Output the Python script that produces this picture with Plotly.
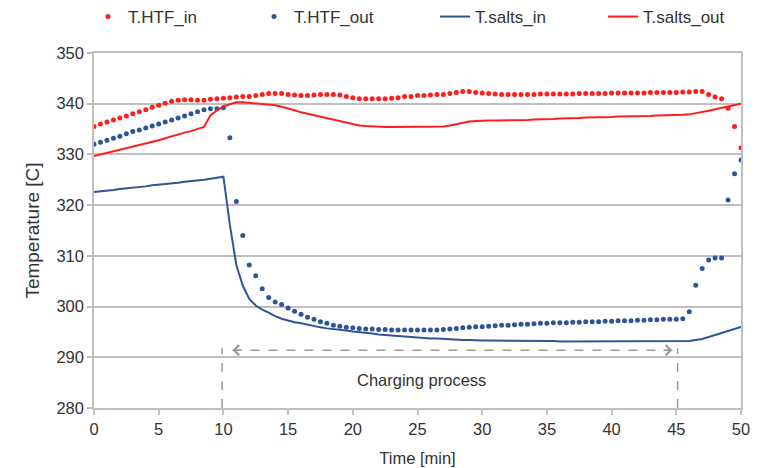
import plotly.graph_objects as go

time_min = [0, 0.5, 1, 1.5, 2, 2.5, 3, 3.5, 4, 4.5, 5, 5.5, 6, 6.5, 7, 7.5, 8, 8.5, 9, 9.5,
            10, 10.5, 11, 11.5, 12, 12.5, 13, 13.5, 14, 14.5, 15, 15.5, 16, 16.5, 17, 17.5, 18, 18.5, 19, 19.5,
            20, 20.5, 21, 21.5, 22, 22.5, 23, 23.5, 24, 24.5, 25, 25.5, 26, 26.5, 27, 27.5, 28, 28.5, 29, 29.5,
            30, 30.5, 31, 31.5, 32, 32.5, 33, 33.5, 34, 34.5, 35, 35.5, 36, 36.5, 37, 37.5, 38, 38.5, 39, 39.5,
            40, 40.5, 41, 41.5, 42, 42.5, 43, 43.5, 44, 44.5, 45, 45.5, 46, 46.5, 47, 47.5, 48, 48.5, 49, 49.5,
            50]

htf_in = [335.5, 336.0, 336.4, 336.8, 337.2, 337.6, 338.0, 338.4, 338.8, 339.3,
          339.7, 340.1, 340.5, 340.7, 340.8, 340.8, 340.7, 340.7, 340.9, 341.0,
          341.1, 341.2, 341.3, 341.4, 341.4, 341.6, 341.8, 342.0, 342.0, 342.0,
          341.8, 341.7, 341.6, 341.6, 341.7, 341.8, 341.8, 341.8, 341.7, 341.4,
          341.2, 341.0, 341.0, 341.0, 341.0, 341.0, 341.1, 341.2, 341.4, 341.4,
          341.6, 341.6, 341.7, 341.8, 341.8, 342.0, 342.2, 342.4, 342.4, 342.2,
          342.1, 342.0, 341.9, 341.8, 341.8, 341.8, 341.8, 341.8, 341.8, 341.9,
          341.9, 341.9, 341.9, 341.9, 341.9, 342.0, 342.0, 342.0, 342.0, 342.0,
          342.1, 342.1, 342.1, 342.1, 342.1, 342.1, 342.2, 342.2, 342.2, 342.2,
          342.2, 342.3, 342.3, 342.4, 342.4, 341.8, 341.3, 341.0, 339.1, 335.5,
          331.3]

htf_out = [332.0, 332.4, 332.8, 333.2, 333.6, 334.1, 334.5, 334.8, 335.2, 335.6,
           336.0, 336.4, 336.8, 337.2, 337.6, 338.0, 338.4, 338.8, 339.0, 339.0,
           339.2, 333.3, 320.7, 314.0, 308.2, 306.1, 303.5, 301.8, 300.9, 300.4,
           299.7, 299.1, 298.5, 297.9, 297.5, 297.0, 296.7, 296.3, 296.1, 295.9,
           295.8, 295.7, 295.6, 295.6, 295.5, 295.5, 295.4, 295.4, 295.4, 295.4,
           295.4, 295.4, 295.4, 295.4, 295.5, 295.6, 295.7, 295.8, 295.9, 296.0,
           296.0, 296.1, 296.2, 296.3, 296.3, 296.4, 296.5, 296.5, 296.6, 296.7,
           296.7, 296.8, 296.8, 296.8, 296.9, 296.9, 297.0, 297.0, 297.0, 297.1,
           297.1, 297.2, 297.2, 297.2, 297.3, 297.3, 297.4, 297.4, 297.5, 297.5,
           297.5, 297.6, 299.0, 304.2, 307.5, 309.2, 309.6, 309.6, 321.0, 326.2,
           328.9]

salts_in = [322.6, 322.7, 322.9, 323.0, 323.2, 323.3, 323.4, 323.6, 323.7, 323.9,
            324.0, 324.1, 324.3, 324.4, 324.6, 324.7, 324.9, 325.0, 325.2, 325.4,
            325.6, 316.1, 308.2, 304.1, 301.5, 300.2, 299.4, 298.8, 298.1, 297.6,
            297.2, 296.9, 296.7, 296.4, 296.1, 295.9, 295.7, 295.6, 295.4, 295.3,
            295.1, 295.0, 294.8, 294.7, 294.5, 294.4, 294.3, 294.1, 294.0, 293.9,
            293.9, 293.8, 293.7, 293.7, 293.6, 293.5, 293.5, 293.4, 293.4, 293.3,
            293.3, 293.3, 293.3, 293.2, 293.2, 293.2, 293.2, 293.2, 293.2, 293.2,
            293.2, 293.2, 293.1, 293.1, 293.1, 293.1, 293.1, 293.1, 293.1, 293.1,
            293.1, 293.1, 293.1, 293.2, 293.2, 293.2, 293.2, 293.2, 293.2, 293.2,
            293.2, 293.2, 293.2, 293.4, 293.6, 294.0, 294.4, 294.8, 295.2, 295.6,
            296.0]

salts_out = [329.7, 330.0, 330.3, 330.6, 330.9, 331.2, 331.5, 331.8, 332.2, 332.5,
             332.8, 333.2, 333.6, 334.0, 334.3, 334.6, 335.0, 335.4, 337.7, 338.7,
             339.5, 339.9, 340.3, 340.3, 340.2, 340.1, 340.0, 339.9, 339.7, 339.4,
             339.1, 338.7, 338.3, 338.0, 337.7, 337.4, 337.2, 336.8, 336.5, 336.2,
             336.0, 335.7, 335.6, 335.5, 335.4, 335.4, 335.4, 335.4, 335.4, 335.4,
             335.4, 335.4, 335.4, 335.4, 335.5, 335.7, 336.0, 336.2, 336.5, 336.6,
             336.7, 336.7, 336.7, 336.7, 336.7, 336.7, 336.7, 336.8, 336.9, 336.9,
             337.0, 337.0, 337.1, 337.1, 337.2, 337.2, 337.3, 337.3, 337.4, 337.4,
             337.4, 337.5, 337.5, 337.5, 337.6, 337.6, 337.6, 337.7, 337.7, 337.7,
             337.8, 337.8, 337.9, 338.1, 338.4, 338.6, 338.9, 339.2, 339.5, 339.8,
             340.0]

x_ticks = [0, 5, 10, 15, 20, 25, 30, 35, 40, 45, 50]
y_ticks = [280, 290, 300, 310, 320, 330, 340, 350]

charge_start = 9.9
charge_end = 45.1
arrow_left = 10.7
arrow_right = 44.7
arrow_level = 291.4
label_time = 25.3
label_level = 285.5
label_text = "Charging process"

RED = "#FF1E1E"
BLUE = "#2F5597"
GRID = "#BFBFBF"
TXT = "#333333"
FONT = "Liberation Sans, Arial, sans-serif"

# page body has an ~8px default margin, so the figure is sized to fit the window
FIG_W, FIG_H = 761, 460

fig = go.Figure()
fig.add_trace(go.Scatter(x=time_min, y=htf_in, mode="markers", name="T.HTF_in",
                         marker=dict(color=RED, size=5), legend="legend"))
fig.add_trace(go.Scatter(x=time_min, y=htf_out, mode="markers", name="T.HTF_out",
                         marker=dict(color=BLUE, size=5), legend="legend2"))
fig.add_trace(go.Scatter(x=time_min, y=salts_in, mode="lines", name="T.salts_in",
                         line=dict(color=BLUE, width=2), legend="legend3"))
fig.add_trace(go.Scatter(x=time_min, y=salts_out, mode="lines", name="T.salts_out",
                         line=dict(color=RED, width=2), legend="legend4"))

dash_col = "#9A9A9A"
for tx in (charge_start, charge_end):
    fig.add_shape(type="line", x0=tx, x1=tx, y0=280, y1=arrow_level + 0.4,
                  xref="x", yref="y", line=dict(color=dash_col, width=1.5, dash="dash"))
fig.add_shape(type="line", x0=arrow_left, x1=arrow_right, y0=arrow_level, y1=arrow_level,
              xref="x", yref="y", line=dict(color=dash_col, width=1.5, dash="dash"))
fig.add_annotation(x=arrow_left, y=arrow_level, ax=arrow_left + 0.8, ay=arrow_level,
                   xref="x", yref="y", axref="x", ayref="y", text="", showarrow=True,
                   arrowhead=4, arrowsize=1.3, arrowwidth=1.5, arrowcolor=dash_col)
fig.add_annotation(x=arrow_right, y=arrow_level, ax=arrow_right - 0.8, ay=arrow_level,
                   xref="x", yref="y", axref="x", ayref="y", text="", showarrow=True,
                   arrowhead=4, arrowsize=1.3, arrowwidth=1.5, arrowcolor=dash_col)
fig.add_annotation(x=label_time, y=label_level, xref="x", yref="y", text=label_text,
                   showarrow=False, font=dict(size=16.5, color=TXT, family=FONT),
                   bgcolor="white", borderpad=3)

leg_y = 1 - 9 / FIG_H
leg_common = dict(orientation="h", xref="container", yref="container", yanchor="middle",
                  y=leg_y, bgcolor="rgba(0,0,0,0)", font=dict(size=17, color=TXT, family=FONT),
                  itemwidth=30)
fig.update_layout(
    width=FIG_W, height=FIG_H,
    margin=dict(l=86, r=28, t=45, b=60, autoexpand=False),
    paper_bgcolor="white", plot_bgcolor="white",
    font=dict(family=FONT, color=TXT, size=16),
    showlegend=True,
    legend=dict(x=80 / FIG_W, **leg_common),
    legend2=dict(x=246 / FIG_W, **leg_common),
    legend3=dict(x=427 / FIG_W, **leg_common),
    legend4=dict(x=595 / FIG_W, **leg_common),
    xaxis=dict(range=[0, 50], tickvals=x_ticks, ticktext=[str(v) for v in x_ticks],
               showgrid=False, zeroline=False, showline=True, linecolor=GRID, linewidth=1.5,
               mirror=True, ticks="outside", ticklen=5, tickcolor=GRID, tickwidth=1.5,
               automargin=False,
               tickfont=dict(size=16.5, color=TXT, family=FONT),
               title=dict(text="Time [min]", standoff=16, font=dict(size=16.5, color=TXT, family=FONT))),
    yaxis=dict(range=[280, 350], tickvals=y_ticks, ticktext=[str(v) for v in y_ticks],
               showgrid=True, gridcolor=GRID, gridwidth=1.5, zeroline=False,
               showline=True, linecolor=GRID, linewidth=1.5, mirror=True,
               ticks="outside", ticklen=5, tickcolor=GRID, tickwidth=1.5,
               automargin=False,
               tickfont=dict(size=16.5, color=TXT, family=FONT),
               title=dict(text="Temperature [C]", standoff=12, font=dict(size=19, color=TXT, family=FONT))),
)

fig.write_html("out.html")
